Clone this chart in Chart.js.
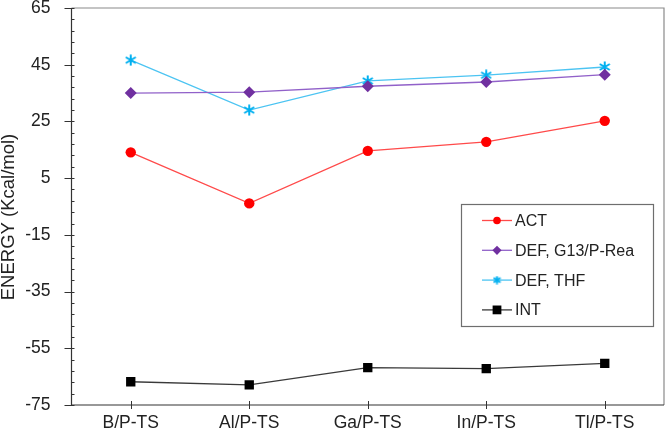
<!DOCTYPE html>
<html>
<head>
<meta charset="utf-8">
<script src="https://cdn.jsdelivr.net/npm/chart.js@4.4.0/dist/chart.umd.min.js"></script>
<style>
  body { margin: 0; background: #fff; }
  canvas { display: block; }
</style>
</head>
<body>
<canvas id="energy" width="666" height="429"></canvas>
<script>
const categories = ["B/P-TS", "Al/P-TS", "Ga/P-TS", "In/P-TS", "Tl/P-TS"];
const act = [14.1, -3.9, 14.6, 17.8, 25.2];
const defG13 = [35.0, 35.3, 37.4, 38.9, 41.5];
const defThf = [46.6, 29.0, 39.3, 41.3, 44.2];
const intE = [-66.8, -67.9, -61.8, -62.2, -60.3];
const yTicks = [65, 45, 25, 5, -15, -35, -55, -75];

const FONT = "'Liberation Sans', Arial, sans-serif";

// excel style asterisk marker
function asterisk(color, size) {
  const c = document.createElement("canvas");
  c.width = size; c.height = size;
  const g = c.getContext("2d");
  const m = size / 2, e = size - 1;
  g.strokeStyle = color;
  g.lineWidth = 2;
  g.beginPath();
  g.moveTo(m, 0.5); g.lineTo(m, e + 0.5);
  g.moveTo(1, size * 0.25); g.lineTo(e, size * 0.75);
  g.moveTo(e, size * 0.25); g.lineTo(1, size * 0.75);
  g.stroke();
  return c;
}

const series = [
  { label: "ACT", values: act, line: "#ff4a4a", mark: "#ff0000", style: "circle", r: 5.2, lr: 3.8 },
  { label: "DEF, G13/P-Rea", values: defG13, line: "#9161c9", mark: "#7030a0", style: "rectRot", r: 6, lr: 4.6 },
  { label: "DEF, THF", values: defThf, line: "#4cc4f2", mark: "#00b0f0", style: asterisk("#00b0f0", 12), r: 6, lr: 4.5 },
  { label: "INT", values: intE, line: "#3a3a3a", mark: "#000000", style: "rect", r: 6.6, lr: 6.2 }
];

const frame = {
  id: "frame",
  afterDraw(chart) {
    const ctx = chart.ctx;
    const a = chart.chartArea;
    const ys = chart.scales.y, xs = chart.scales.x;
    ctx.save();
    // top & right border
    ctx.strokeStyle = "#8a8a8a";
    ctx.lineWidth = 1.2;
    ctx.beginPath();
    ctx.moveTo(a.left, a.top); ctx.lineTo(a.right, a.top); ctx.lineTo(a.right, a.bottom);
    ctx.stroke();
    // axes
    ctx.strokeStyle = "#333";
    ctx.beginPath();
    ctx.moveTo(a.left, a.top); ctx.lineTo(a.left, a.bottom); ctx.lineTo(a.right, a.bottom);
    ctx.stroke();
    // y ticks
    ctx.lineWidth = 1;
    ctx.beginPath();
    for (let v = -75; v <= 65; v += 4) {
      const py = Math.round(ys.getPixelForValue(v)) + 0.5;
      const major = (v + 75) % 20 === 0;
      ctx.moveTo(a.left - (major ? 7 : 0), py);
      ctx.lineTo(a.left + 3, py);
    }
    // x ticks
    categories.forEach((c, i) => {
      const px = Math.round(xs.getPixelForValue(i)) + 0.5;
      ctx.moveTo(px, a.bottom - 4);
      ctx.lineTo(px, a.bottom + 4);
    });
    ctx.stroke();

    // axis title
    ctx.fillStyle = "#222";
    ctx.font = "18.5px " + FONT;
    ctx.textAlign = "center";
    ctx.textBaseline = "middle";
    ctx.translate(9, 217);
    ctx.rotate(-Math.PI / 2);
    ctx.fillText("ENERGY (Kcal/mol)", 0, 0);
    ctx.restore();

    // legend box
    ctx.save();
    const lx = a.right - 203, ly = 204, lw = 192, lh = 122;
    ctx.fillStyle = "#fff";
    ctx.fillRect(lx, ly, lw, lh);
    ctx.strokeStyle = "#6e6e6e";
    ctx.lineWidth = 1.2;
    ctx.strokeRect(lx + 0.5, ly + 0.5, lw, lh);
    ctx.font = "16px " + FONT;
    ctx.textBaseline = "middle";
    chart.data.datasets.forEach((ds, i) => {
      const s = series[i];
      const cy = ly + 16.5 + i * 29.8;
      const mx = lx + 36;
      ctx.strokeStyle = ds.borderColor;
      ctx.lineWidth = 1.3;
      ctx.beginPath();
      ctx.moveTo(lx + 21, cy); ctx.lineTo(lx + 51, cy);
      ctx.stroke();
      ctx.fillStyle = ds.pointBackgroundColor;
      ctx.beginPath();
      if (ds.pointStyle === "circle") {
        ctx.arc(mx, cy, s.lr, 0, Math.PI * 2);
        ctx.fill();
      } else if (ds.pointStyle === "rect") {
        const h = s.lr * Math.SQRT1_2;
        ctx.fillRect(mx - h, cy - h, 2 * h, 2 * h);
      } else if (ds.pointStyle === "rectRot") {
        const r = s.lr;
        ctx.moveTo(mx, cy - r); ctx.lineTo(mx + r, cy);
        ctx.lineTo(mx, cy + r); ctx.lineTo(mx - r, cy);
        ctx.closePath(); ctx.fill();
      } else {
        ctx.drawImage(asterisk(s.mark, 9), mx - 4.5, cy - 4.5);
      }
      ctx.fillStyle = "#222";
      ctx.textAlign = "left";
      ctx.fillText(ds.label, lx + 54, cy + 1);
    });
    ctx.restore();
  }
};

new Chart(document.getElementById("energy").getContext("2d"), {
  type: "line",
  data: {
    labels: categories,
    datasets: series.map(s => ({
      label: s.label,
      data: s.values,
      borderColor: s.line,
      borderWidth: 1.3,
      pointStyle: s.style,
      pointRadius: s.r,
      pointHoverRadius: s.r,
      pointBackgroundColor: s.mark,
      pointBorderColor: s.mark,
      pointBorderWidth: 0,
      tension: 0
    }))
  },
  options: {
    responsive: false,
    animation: false,
    devicePixelRatio: 1,
    layout: { autoPadding: false, padding: { left: 0, right: 2, top: 8, bottom: 0 } },
    plugins: {
      legend: { display: false },
      tooltip: { enabled: false }
    },
    scales: {
      x: {
        type: "category",
        offset: true,
        grid: { display: false },
        border: { display: false },
        afterFit(scale) {
          scale.height = 24;
          scale.paddingLeft = 0;
          scale.paddingRight = 0;
        },
        ticks: {
          padding: 0,
          maxRotation: 0,
          autoSkip: false,
          color: "#222",
          font: { family: FONT, size: 17.5 }
        }
      },
      y: {
        min: -75,
        max: 65,
        grid: { display: false },
        border: { display: false },
        afterBuildTicks(scale) {
          scale.ticks = yTicks.map(v => ({ value: v }));
        },
        afterFit(scale) {
          scale.width = 71.5;
          scale.paddingTop = 0;
          scale.paddingBottom = 0;
        },
        ticks: {
          padding: 13,
          color: "#222",
          font: { family: FONT, size: 17.5 }
        }
      }
    }
  },
  plugins: [frame]
});
</script>
</body>
</html>
